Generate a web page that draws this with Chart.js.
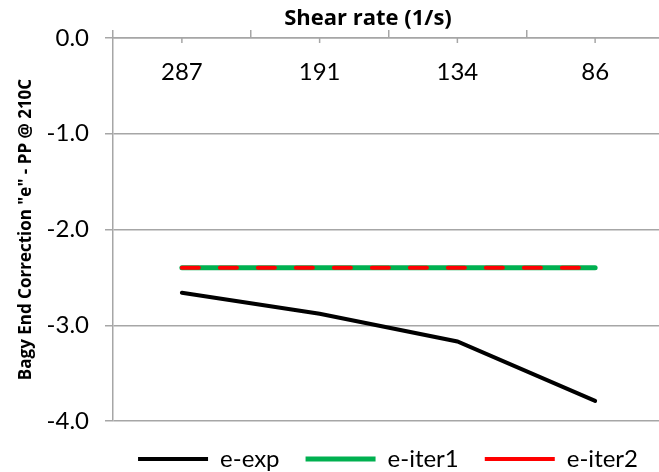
<!DOCTYPE html>
<html>
<head>
<meta charset="utf-8">
<script src="https://cdn.jsdelivr.net/npm/chart.js@4/dist/chart.umd.min.js"></script>
<style>
  html, body { margin: 0; padding: 0; background: #fff; overflow: hidden; }
  #wrap { position: relative; width: 664px; height: 472px; }
</style>
</head>
<body>
<div id="wrap"><canvas id="chart"></canvas></div>
<script>
// shear rates (1/s) and end correction values
const rates = ['287', '191', '134', '86'];
const eExp = [-2.66, -2.88, -3.17, -3.79];
const eIter1 = [-2.40, -2.40, -2.40, -2.40];
const eIter2 = [-2.40, -2.40, -2.40, -2.40];
const yTicks = [0, -1, -2, -3, -4];

const FONT = 'Lato, "Open Sans", sans-serif';
const TITLE_FONT = '"Open Sans", Lato, sans-serif';
const AXIS_GRAY = '#a6a6a6';

// top axis: title, labels under the axis line and small centre ticks
const topAxisDeco = {
  id: 'topAxisDeco',
  afterDraw(chart) {
    const { ctx, chartArea, scales } = chart;
    const x = scales.x;
    ctx.save();
    ctx.strokeStyle = AXIS_GRAY;
    ctx.lineWidth = 1.5;
    ctx.fillStyle = '#000';
    ctx.font = '24px ' + FONT;
    ctx.textAlign = 'center';
    ctx.textBaseline = 'middle';
    rates.forEach((r, i) => {
      const px = x.getPixelForValue(i);
      ctx.beginPath();
      ctx.moveTo(px, chartArea.top);
      ctx.lineTo(px, chartArea.top + 5);
      ctx.stroke();
      ctx.fillText(r, px, chartArea.top + 34);
    });
    ctx.font = 'bold 22px ' + TITLE_FONT;
    ctx.fillText('Shear rate (1/s)', 368, 19);
    ctx.restore();
  }
};

new Chart(document.getElementById('chart'), {
  type: 'line',
  data: {
    labels: rates,
    datasets: [
      { label: 'e-exp', data: eExp, borderColor: '#000000', backgroundColor: '#000000',
        borderWidth: 4, borderCapStyle: 'round', order: 2 },
      { label: 'e-iter1', data: eIter1, borderColor: '#00b050', backgroundColor: '#00b050',
        borderWidth: 5, borderCapStyle: 'round', order: 1 },
      { label: 'e-iter2', data: eIter2, borderColor: '#ff0000', backgroundColor: '#ff0000',
        borderWidth: 4, borderCapStyle: 'round', borderDash: [17, 21], order: 0 }
    ]
  },
  options: {
    responsive: true,
    maintainAspectRatio: false,
    animation: false,
    devicePixelRatio: 1,
    layout: { padding: { left: 0, right: 0, top: 0, bottom: 0 } },
    elements: { point: { radius: 0, hoverRadius: 0 }, line: { tension: 0 } },
    scales: {
      x: {
        position: 'top',
        offset: true,
        ticks: { display: false },
        grid: { offset: true, drawOnChartArea: false, drawTicks: true, tickLength: 8,
                color: AXIS_GRAY, lineWidth: 1.5 },
        border: { color: AXIS_GRAY, width: 1.5 },
        afterFit(scale) { scale.height = 38; }
      },
      y: {
        min: -4,
        max: 0,
        afterBuildTicks(scale) { scale.ticks = yTicks.map(v => ({ value: v })); },
        ticks: {
          color: '#000',
          font: { family: FONT, size: 24 },
          padding: 16,
          callback: v => Number(v).toFixed(1)
        },
        grid: { color: AXIS_GRAY, lineWidth: 1.5, tickLength: 8 },
        border: { color: AXIS_GRAY, width: 1.5 },
        title: {
          display: true,
          text: 'Bagy End Correction "e" - PP @ 210C',
          color: '#000',
          font: { family: TITLE_FONT, size: 17, weight: 'bold' },
          padding: { top: 16, bottom: 0 }
        },
        afterFit(scale) { scale.width = 113; }
      }
    },
    plugins: {
      title: { display: false },
      tooltip: { enabled: false },
      legend: {
        position: 'bottom',
        align: 'end',
        maxHeight: 51,
        labels: {
          usePointStyle: true,
          pointStyle: 'line',
          pointStyleWidth: 70,
          padding: 26,
          color: '#000',
          font: { family: FONT, size: 24, lineHeight: 1 },
          sort: (a, b) => a.datasetIndex - b.datasetIndex
        }
      }
    }
  },
  plugins: [topAxisDeco]
});
</script>
</body>
</html>
